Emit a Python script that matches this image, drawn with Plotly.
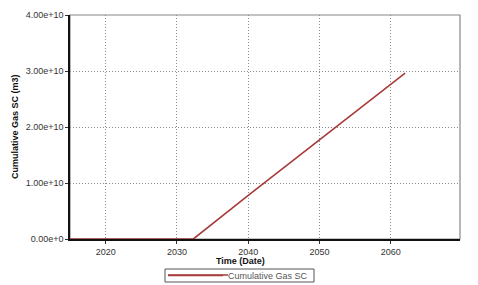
import plotly.graph_objects as go

# Data (decimal years, cumulative gas in m3)
years = [2015.0, 2020.0, 2025.0, 2030.0, 2032.3, 2040.0, 2050.0, 2062.0]
cum_gas = [0.0, 0.0, 0.0, 0.0, 0.0, 0.78e10, 1.77e10, 2.96e10]

y_tickvals = [0, 1e10, 2e10, 3e10, 4e10]
y_ticktext = ["0.00e+0", "1.00e+10", "2.00e+10", "3.00e+10", "4.00e+10"]
x_tickvals = [2020, 2030, 2040, 2050, 2060]
x_ticktext = ["2020", "2030", "2040", "2050", "2060"]

line_color = "#a83a3a"

fig = go.Figure()
fig.add_trace(go.Scatter(
    x=years, y=cum_gas, mode="lines", name="Cumulative Gas SC",
    line=dict(color=line_color, width=1.6),
))

ff = "Liberation Sans, Arial, sans-serif"
font = dict(family=ff, size=9, color="#333333")

fig.update_layout(
    width=478, height=285,
    margin=dict(l=70, r=18, t=15, b=46, autoexpand=False),
    paper_bgcolor="white", plot_bgcolor="white",
    font=font,
    showlegend=True,
    legend=dict(
        orientation="h",
        x=(163 - 70) / 390, xanchor="left", y=-(290 - 239) / 224, yanchor="bottom",
        borderwidth=0, bgcolor="rgba(0,0,0,0)",
        font=dict(family=ff, size=9, color="#555555"),
        itemwidth=55, tracegroupgap=0,
    ),
    shapes=[
        dict(type="rect", xref="paper", yref="paper", x0=0, x1=1, y0=0, y1=1,
             line=dict(color="#888888", width=1.2), layer="below"),
        # legend frame
        dict(type="rect", xref="paper", yref="paper",
             x0=(165 - 70) / 390, x1=(314 - 70) / 390,
             y0=-(282 - 239) / 224, y1=-(269 - 239) / 224,
             line=dict(color="#555555", width=1), fillcolor="rgba(0,0,0,0)"),
        # extend legend sample line
        dict(type="line", xref="paper", yref="paper",
             x0=(168 - 70) / 390, x1=(228 - 70) / 390,
             y0=-(275 - 239) / 224, y1=-(275 - 239) / 224,
             line=dict(color=line_color, width=1.6)),
    ],
    annotations=[
        dict(text="<b>Time (Date)</b>", xref="paper", yref="paper",
             x=0.436, y=-0.1, xanchor="center", yanchor="middle", showarrow=False,
             font=dict(family=ff, size=9, color="#111111")),
        dict(text="<b>Cumulative Gas SC (m3)</b>", xref="paper", yref="paper",
             x=-0.141, y=0.5, xanchor="center", yanchor="middle", showarrow=False,
             textangle=-90, font=dict(family=ff, size=9, color="#111111")),
    ],
)

fig.update_xaxes(
    range=[2015, 2069.7],
    tickvals=x_tickvals, ticktext=x_ticktext,
    showgrid=True, gridcolor="#8a8a8a", griddash="1px,2px", gridwidth=1,
    showline=True, linecolor="#111111", linewidth=1.5,
    ticks="outside", ticklen=3, tickcolor="#333333",
    zeroline=False,
)
fig.update_yaxes(
    range=[0, 4e10],
    tickvals=y_tickvals, ticktext=y_ticktext,
    showgrid=True, gridcolor="#8a8a8a", griddash="1px,2px", gridwidth=1,
    showline=True, linecolor="#111111", linewidth=1.5,
    ticks="outside", ticklen=3, tickcolor="#333333",
    zeroline=False,
)

fig.write_html("out.html")
